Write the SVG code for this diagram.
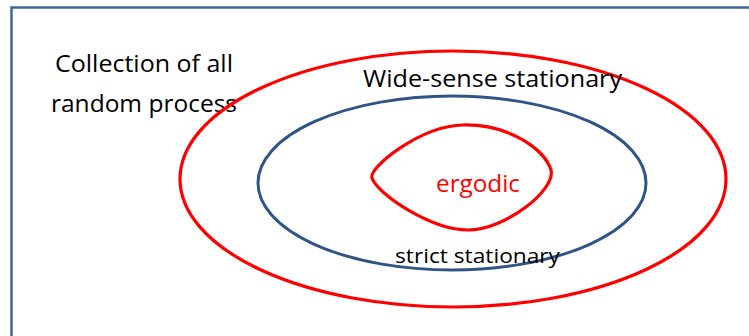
<svg xmlns="http://www.w3.org/2000/svg" width="749" height="336" viewBox="0 0 749 336">
  <style>
    .lbl { font-family: "Open Sans", "Liberation Sans", Arial, sans-serif; fill: #000; }
    .red { fill: none; stroke: #FF0000; stroke-width: 3.2; }
    .blue { fill: none; stroke: #2F5587; stroke-width: 3; }
  </style>
  <rect width="749" height="336" fill="#fff"/>
  <!-- outer frame: the set of all random processes -->
  <g id="universe">
    <rect x="11.5" y="7.5" width="760" height="360" fill="none" stroke="#41679A" stroke-width="2.5"/>
    <text class="lbl" x="55" y="72" font-size="23" textLength="178" lengthAdjust="spacingAndGlyphs">Collection of all</text>
    <text class="lbl" x="51" y="112" font-size="23" textLength="186" lengthAdjust="spacingAndGlyphs">random process</text>
  </g>
  <g id="wide-sense">
    <ellipse class="red" cx="453" cy="179" rx="273" ry="128"/>
    <text class="lbl" x="363" y="87" font-size="23" textLength="259" lengthAdjust="spacingAndGlyphs">Wide-sense stationary</text>
  </g>
  <g id="strict">
    <ellipse class="blue" cx="452" cy="183" rx="194" ry="87"/>
    <text class="lbl" x="395" y="263" font-size="20" textLength="165" lengthAdjust="spacingAndGlyphs">strict stationary</text>
  </g>
  <g id="ergodic">
    <path class="red" d="M 372 178 C 368 168, 420 126, 463 125 C 510 124, 545 150, 551 170 C 556 190, 505 230, 468 230 C 432 230, 378 195, 372 178 Z"/>
    <text x="436" y="192" font-size="23" font-family="Open Sans, Liberation Sans, Arial, sans-serif" fill="#FF0000" textLength="84" lengthAdjust="spacingAndGlyphs">ergodic</text>
  </g>
  <g id="connectors"/>
</svg>
